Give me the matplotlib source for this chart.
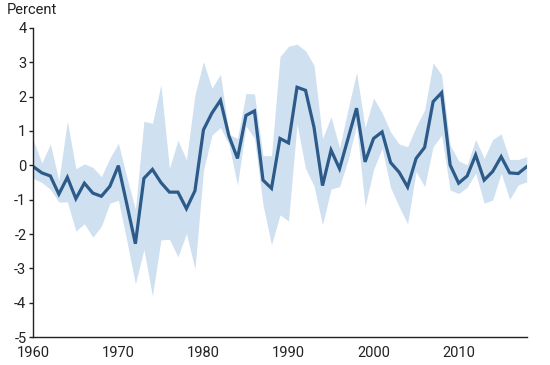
import matplotlib
matplotlib.use("Agg")
import matplotlib.pyplot as plt
import numpy as np

plt.rcParams['font.family'] = ['Roboto', 'DejaVu Sans']

years = list(range(1960, 2019))
central = [-0.04, -0.22, -0.31, -0.84, -0.35, -0.97, -0.52, -0.81, -0.90, -0.61,
           -0.01, -1.14, -2.28, -0.38, -0.12, -0.50, -0.78, -0.78, -1.26, -0.74,
           1.03, 1.52, 1.89, 0.85, 0.20, 1.45, 1.58, -0.43, -0.67, 0.78,
           0.65, 2.27, 2.18, 1.10, -0.59, 0.44, -0.10, 0.78, 1.66, 0.10,
           0.78, 0.97, 0.08, -0.20, -0.63, 0.20, 0.52, 1.85, 2.11, 0.01,
           -0.52, -0.31, 0.30, -0.43, -0.18, 0.25, -0.22, -0.24, -0.04]
upper = [0.72, 0.07, 0.62, -0.44, 1.28, -0.10, 0.04, -0.06, -0.33, 0.21,
         0.64, -0.35, -1.28, 1.28, 1.22, 2.34, -0.09, 0.73, 0.16, 2.05,
         3.01, 2.24, 2.65, 0.90, 0.78, 2.09, 2.07, 0.28, 0.28, 3.16,
         3.46, 3.52, 3.33, 2.91, 0.78, 1.41, 0.50, 1.63, 2.70, 1.10,
         1.95, 1.53, 0.97, 0.62, 0.54, 1.12, 1.61, 2.98, 2.63, 0.59,
         0.13, 0.01, 0.75, 0.20, 0.75, 0.91, 0.17, 0.17, 0.25]
lower = [-0.38, -0.50, -0.70, -1.07, -1.06, -1.91, -1.70, -2.09, -1.77, -1.10,
         -1.02, -2.20, -3.45, -2.45, -3.80, -2.17, -2.15, -2.66, -1.98, -3.02,
         -0.15, 0.88, 1.10, 0.60, -0.58, 1.15, 0.78, -1.15, -2.31, -1.44,
         -1.62, 1.20, -0.09, -0.60, -1.73, -0.69, -0.62, 0.15, 1.17, -1.20,
         -0.12, 0.49, -0.65, -1.20, -1.70, -0.18, -0.62, 0.54, 0.88, -0.72,
         -0.82, -0.64, -0.23, -1.10, -1.01, -0.23, -0.99, -0.57, -0.48]

yticks = [4, 3, 2, 1, 0, -1, -2, -3, -4, -5]
xticks = [1960, 1970, 1980, 1990, 2000, 2010]

fig = plt.figure(figsize=(5.5, 3.65), dpi=100)
ax = fig.add_axes([0.0606, 0.0759, 0.897, 0.8482])

ax.fill_between(years, lower, upper, color='#cfe0f0', linewidth=0)
ax.plot(years, central, color='#2c5b8a', linewidth=2.3, solid_joinstyle='miter')

ax.set_xlim(1960, 2018)
ax.set_ylim(-5, 4)
ax.set_yticks(yticks)
ax.set_xticks(xticks)
ax.set_yticklabels([str(v) for v in yticks])
ax.spines['top'].set_visible(False)
ax.spines['right'].set_visible(False)
for s in ['left', 'bottom']:
    ax.spines[s].set_color('#222222')
    ax.spines[s].set_linewidth(1.0)
ax.tick_params(axis='y', length=3, width=1, color='#222222', pad=2,
               labelsize=10.5, labelcolor='#222222')
ax.tick_params(axis='x', length=0, pad=6.5, labelsize=10.5, labelcolor='#222222')

fig.text(0.013, 0.972, 'Percent', fontsize=10.5, color='#222222', va='center', ha='left')

fig.savefig('out.png', dpi=100)
